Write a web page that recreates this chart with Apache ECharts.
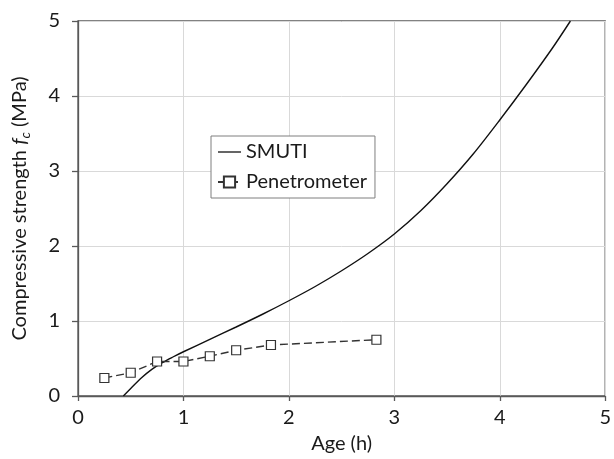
<!DOCTYPE html>
<html>
<head>
<meta charset="utf-8">
<script src="https://cdn.jsdelivr.net/npm/echarts@6/dist/echarts.min.js"></script>
<style>
html,body{margin:0;padding:0;background:#fff;}
#chart{width:614px;height:459px;}
</style>
</head>
<body>
<div id="chart"></div>
<script>
var ageSMUTI = [0.43,0.5,0.6,0.7,0.8,0.9,1.0,1.25,1.5,1.75,2.0,2.25,2.5,2.75,3.0,3.25,3.5,3.75,4.0,4.25,4.5,4.67];
var fcSMUTI  = [0,0.1,0.24,0.355,0.445,0.52,0.59,0.755,0.92,1.09,1.27,1.46,1.67,1.9,2.16,2.47,2.83,3.23,3.68,4.15,4.64,5.0];
var agePen = [0.25,0.5,0.75,1.0,1.25,1.5,1.83,2.83];
var fcPen  = [0.24,0.31,0.46,0.46,0.53,0.61,0.68,0.75];
var xTicks = [0,1,2,3,4,5];
var yTicks = [0,1,2,3,4,5];

function pairs(xs, ys){ return xs.map(function(x,i){ return [x, ys[i]]; }); }

var FONT = 'Lato';
var axisCol = '#595959';
var chart = echarts.init(document.getElementById('chart'), null, {renderer:'canvas'});
chart.setOption({
  animation:false,
  backgroundColor:'#fff',
  textStyle:{fontFamily:FONT},
  grid:{left:78, right:6, top:21, bottom:62, show:true, borderColor:axisCol, borderWidth:1.3, backgroundColor:'transparent'},
  legend:{
    left:211, top:136, orient:'vertical',
    padding:[6,8,6,6],
    itemGap:10, itemWidth:23, itemHeight:14,
    symbolKeepAspect:true,
    borderColor:'#7f7f7f', borderWidth:1, backgroundColor:'#fff',
    textStyle:{fontFamily:FONT, fontSize:20, color:'#1a1a1a'},
    data:[{name:'SMUTI', icon:'path://M0,0 L46,0 L46,2.6 L0,2.6 Z'}, {name:'Penetrometer'}]
  },
  xAxis:{
    type:'value', min:xTicks[0], max:xTicks[xTicks.length-1], interval:1,
    name:'Age (h)', nameLocation:'middle', nameGap:38,
    nameTextStyle:{fontFamily:FONT, fontSize:20, color:'#1a1a1a'},
    axisLine:{show:true, lineStyle:{color:axisCol, width:1.3}},
    axisTick:{show:true, inside:false, length:5, lineStyle:{color:axisCol, width:1.3}},
    axisLabel:{fontFamily:FONT, fontSize:20, color:'#1a1a1a', margin:12},
    splitLine:{show:true, lineStyle:{color:'#d9d9d9', width:1}}
  },
  yAxis:{
    type:'value', min:yTicks[0], max:yTicks[yTicks.length-1], interval:1,
    name:'Compressive strength {i|f}{s|c} (MPa)', nameLocation:'middle', nameGap:46,
    nameTextStyle:{fontFamily:FONT, fontSize:20, color:'#1a1a1a',
      rich:{
        i:{fontFamily:FONT, fontSize:20, fontStyle:'italic', color:'#1a1a1a'},
        s:{fontFamily:FONT, fontSize:14, fontStyle:'italic', color:'#1a1a1a', padding:[10,0,0,0]}
      }},
    axisLine:{show:true, lineStyle:{color:axisCol, width:1.3}},
    axisTick:{show:true, inside:false, length:6, lineStyle:{color:axisCol, width:1.3}},
    axisLabel:{fontFamily:FONT, fontSize:20, color:'#1a1a1a', margin:18},
    splitLine:{show:true, lineStyle:{color:'#d9d9d9', width:1}}
  },
  series:[
    {
      name:'SMUTI', type:'line', data:pairs(ageSMUTI, fcSMUTI),
      smooth:0.3, showSymbol:false, symbol:'none',
      lineStyle:{color:'#111', width:1.4},
      itemStyle:{color:'#111'},
      z:3
    },
    {
      name:'Penetrometer', type:'line', data:pairs(agePen, fcPen),
      symbol:'rect', symbolSize:9, showSymbol:true,
      lineStyle:{color:'#333', width:1.4, type:[8,4]},
      itemStyle:{color:'#fff', borderColor:'#333', borderWidth:1.2},
      z:4
    }
  ]
});
</script>
</body>
</html>
